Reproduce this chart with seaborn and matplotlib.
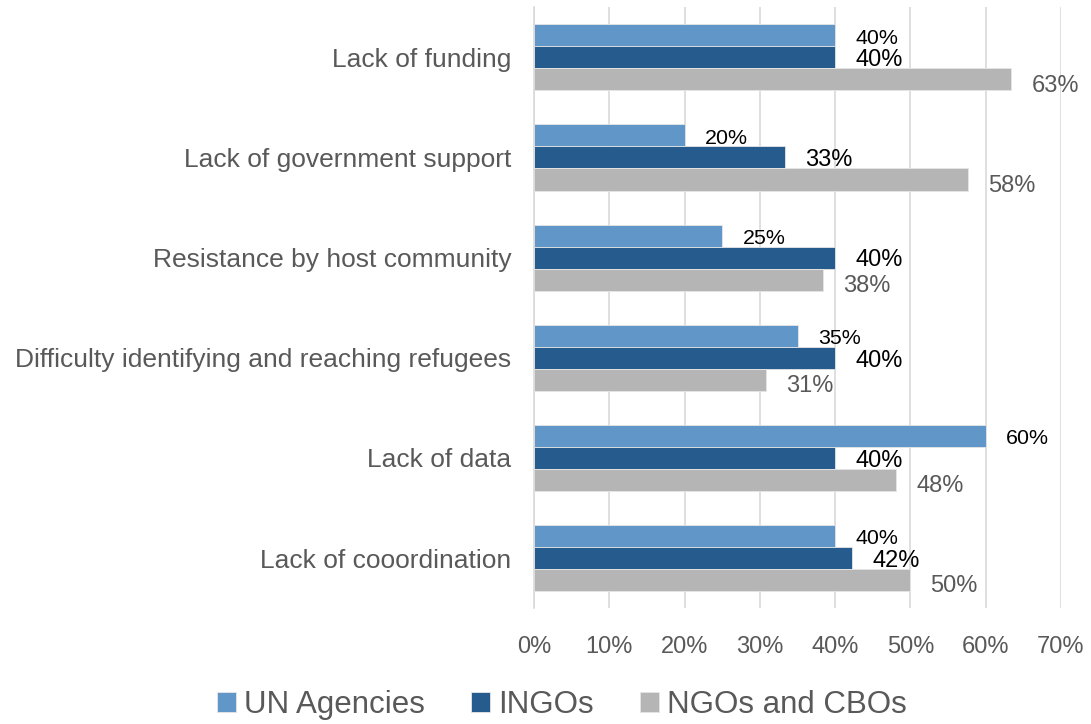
import matplotlib
matplotlib.use("Agg")
import matplotlib.pyplot as plt
from matplotlib.ticker import FixedLocator
import seaborn as sns
import pandas as pd

# Survey results: share of respondents naming each challenge
challenges = [
    "Lack of funding",
    "Lack of government support",
    "Resistance by host community",
    "Difficulty identifying and reaching refugees",
    "Lack of data",
    "Lack of cooordination",
]
groups = ["UN Agencies", "INGOs", "NGOs and CBOs"]
un_agencies = [40.0, 20.0, 25.0, 35.0, 60.0, 40.0]
ingos = [40.0, 33.3, 40.0, 40.0, 40.0, 42.3]
ngos_cbos = [63.4, 57.7, 38.4, 30.8, 48.1, 50.0]
x_ticks = [0, 10, 20, 30, 40, 50, 60, 70]

colors = ["#6097C8", "#265C8D", "#B5B5B5"]
text_gray = "#595959"

df = pd.DataFrame({
    "challenge": challenges * 3,
    "group": [g for g in groups for _ in challenges],
    "value": un_agencies + ingos + ngos_cbos,
})

sns.set_theme(style="white")
plt.rcParams["font.family"] = ["Liberation Sans", "DejaVu Sans"]

fig = plt.figure(figsize=(10.91, 7.24), dpi=100)
ax = fig.add_axes([0.4895, 0.160, 0.4830, 0.830])

sns.barplot(
    data=df, y="challenge", x="value", hue="group",
    order=challenges, hue_order=groups, palette=colors,
    orient="h", width=0.66, gap=0, saturation=1,
    edgecolor="#E6E6E6", linewidth=0.6, ax=ax, legend=True,
)

ax.set_xlim(0, 70)
ax.set_ylim(len(challenges) - 0.5, -0.5)
ax.set_xticks(x_ticks)
ax.set_xticklabels([f"{t}%" for t in x_ticks])
ax.xaxis.grid(True, color="#D9D9D9", linewidth=1.2)
ax.set_axisbelow(True)
ax.set_xlabel("")
ax.set_ylabel("")

for side in ["top", "right", "bottom"]:
    ax.spines[side].set_visible(False)
ax.spines["left"].set_color("#D9D9D9")
ax.spines["left"].set_linewidth(1.2)

ax.tick_params(axis="x", length=0, labelsize=17, colors=text_gray, pad=20)
ax.tick_params(axis="y", which="major", length=0, labelsize=19,
               colors=text_gray, pad=16.5)
ax.yaxis.set_minor_locator(FixedLocator([i - 0.5 for i in range(len(challenges) + 1)]))
ax.tick_params(axis="y", which="minor", length=7, width=1.2, color="#D9D9D9")

# Value labels beside each bar
label_styles = [
    {"color": "black", "size": 15.4, "dy": -2},
    {"color": "black", "size": 17, "dy": -2},
    {"color": text_gray, "size": 17, "dy": -4.5},
]
for container, style in zip(ax.containers, label_styles):
    for bar in container:
        w = bar.get_width()
        yc = bar.get_y() + bar.get_height() / 2
        ax.annotate(f"{w:.0f}%", xy=(w, yc), xytext=(14.5, style["dy"]),
                    textcoords="offset points", ha="left", va="center",
                    fontsize=style["size"], color=style["color"])

handles, labels = ax.get_legend_handles_labels()
ax.get_legend().remove()
fig.legend(handles, labels, loc="lower center", bbox_to_anchor=(0.515, -0.033),
           ncol=3, frameon=False, fontsize=22.5, labelcolor=text_gray,
           handlelength=0.6, handleheight=0.6, handletextpad=0.25,
           columnspacing=1.5)

fig.savefig("out.png", dpi=100)
